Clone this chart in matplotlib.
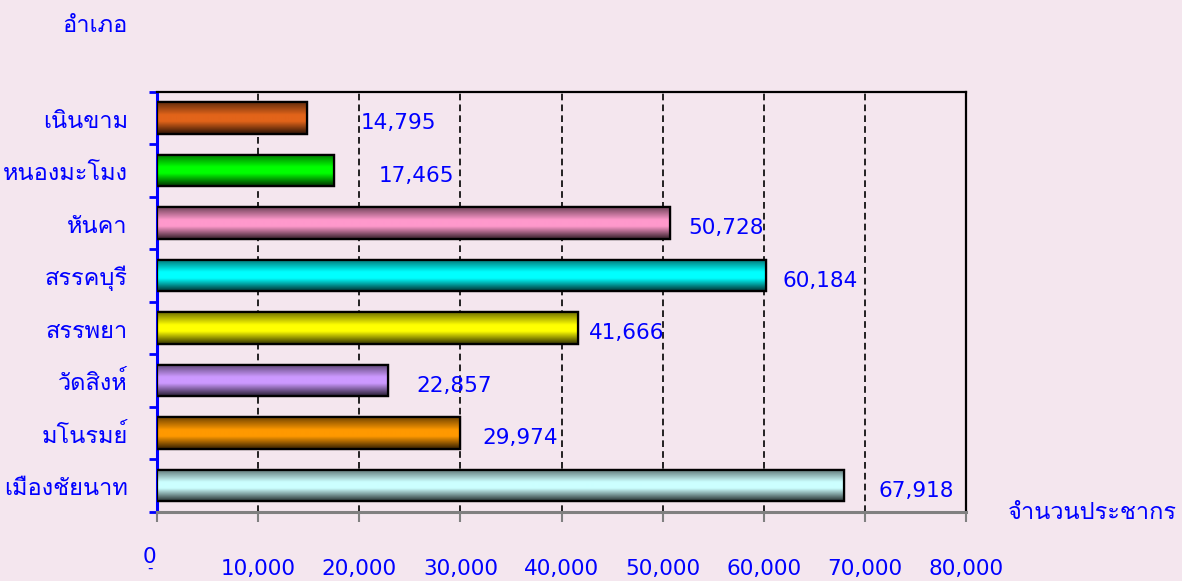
import numpy as np
import matplotlib
matplotlib.use("Agg")
import matplotlib.pyplot as plt
from matplotlib import font_manager as fm
from matplotlib.colors import to_rgb

# data, top to bottom as drawn
districts = ["เนินขาม", "หนองมะโมง", "หันคา", "สรรคบุรี",
             "สรรพยา", "วัดสิงห์", "มโนรมย์", "เมืองชัยนาท"]
population = [14795, 17465, 50728, 60184, 41666, 22857, 29974, 67918]
bar_colors = ["#E2641A", "#00FF00", "#FF99CC", "#00FFFF",
              "#FFFF00", "#CC99FF", "#FF9900", "#CCFFFF"]
x_ticks = [0, 10000, 20000, 30000, 40000, 50000, 60000, 70000, 80000]
y_title = "อำเภอ"
x_title = "จำนวนประชากร"

# extra room between each bar end and its value label (data units)
label_gap = [5300, 4500, 1800, 1700, 1000, 2800, 2200, 3400]

BG = "#F4E6EE"
BLUE = "#0000FF"


def find_thai_fonts():
    """Return installed font names that cover Thai glyphs."""
    from fontTools.ttLib import TTFont
    names = []
    for f in fm.fontManager.ttflist:
        try:
            font = TTFont(f.fname, fontNumber=0, lazy=True)
            cmap = font.getBestCmap()
        except Exception:
            continue
        if cmap and 0x0E01 in cmap and 0x0E33 in cmap and f.name not in names:
            names.append(f.name)
    return names


thai_fonts = find_thai_fonts()
preferred = [n for n in ["Loma", "Anuphan", "Bai Jamjuree"] if n in thai_fonts]
families = ["DejaVu Sans"] + (preferred or thai_fonts)[:1]
plt.rcParams["font.family"] = families


def shade(color, n=64):
    """Vertical cylinder-like gradient, top row first."""
    t = np.linspace(0, 1, n)
    f = np.interp(t, [0.0, 0.4, 0.6, 1.0], [0.45, 1.0, 1.0, 0.2])
    rgb = np.array(to_rgb(color))
    return (rgb[None, :] * f[:, None])[:, None, :]


fig = plt.figure(figsize=(11.82, 5.81), dpi=100, facecolor=BG)
ax = fig.add_axes([0.1328, 0.1188, 0.6845, 0.7229], facecolor=BG)

ypos = np.arange(len(districts))[::-1]
height = 0.6
bars = ax.barh(ypos, population, height=height, color=bar_colors,
               edgecolor="black", linewidth=1.6, zorder=3)
for bar, c in zip(bars, bar_colors):
    x0, y0 = bar.get_x(), bar.get_y()
    w, h = bar.get_width(), bar.get_height()
    im = ax.imshow(shade(c), extent=(x0, x0 + w, y0, y0 + h),
                   aspect="auto", interpolation="bilinear", zorder=3.5)
    im.set_clip_path(bar)
ax.barh(ypos, population, height=height, fill=False,
        edgecolor="black", linewidth=1.6, zorder=4)

for y, v, g in zip(ypos, population, label_gap):
    ax.text(v + g, y - 0.1, f"{v:,}", color=BLUE, fontsize=15.5,
            ha="left", va="center", zorder=5)

ax.set_xlim(0, 80000)
ax.set_ylim(-0.5, len(districts) - 0.5)

ax.set_xticks(x_ticks)
ax.set_xticklabels([""] + [f"{t:,}" for t in x_ticks[1:]])
ax.tick_params(axis="x", colors="#808080", length=7, width=1.5,
               labelcolor=BLUE, labelsize=15.5, pad=27)
ax.xaxis.grid(True, color="black", linestyle=(0, (4, 2.5)), linewidth=1.2)
ax.set_axisbelow(True)
ax.text(-700, -1.35, "0", color=BLUE, fontsize=15.5, ha="center",
        va="center", clip_on=False)
ax.text(-700, -1.58, "-", color=BLUE, fontsize=11, ha="center",
        va="center", clip_on=False)

ax.set_yticks(ypos)
ax.set_yticklabels(districts)
ax.set_yticks(np.arange(-0.5, len(districts)), minor=True)
ax.tick_params(axis="y", which="major", length=0, pad=21,
               labelcolor=BLUE, labelsize=17)
ax.tick_params(axis="y", which="minor", length=6, width=2, color=BLUE)

ax.spines["left"].set_color(BLUE)
ax.spines["left"].set_linewidth(2.2)
ax.spines["bottom"].set_color("#808080")
ax.spines["bottom"].set_linewidth(2.2)
ax.spines["top"].set_linewidth(1.6)
ax.spines["right"].set_linewidth(1.6)

fig.text(62 / 1182, 1 - 25 / 581, y_title, color=BLUE, fontsize=17,
         ha="left", va="center")
fig.text(1008 / 1182, 1 - 512 / 581, x_title, color=BLUE, fontsize=17,
         ha="left", va="center")

fig.savefig("out.png", dpi=100, facecolor=BG)
